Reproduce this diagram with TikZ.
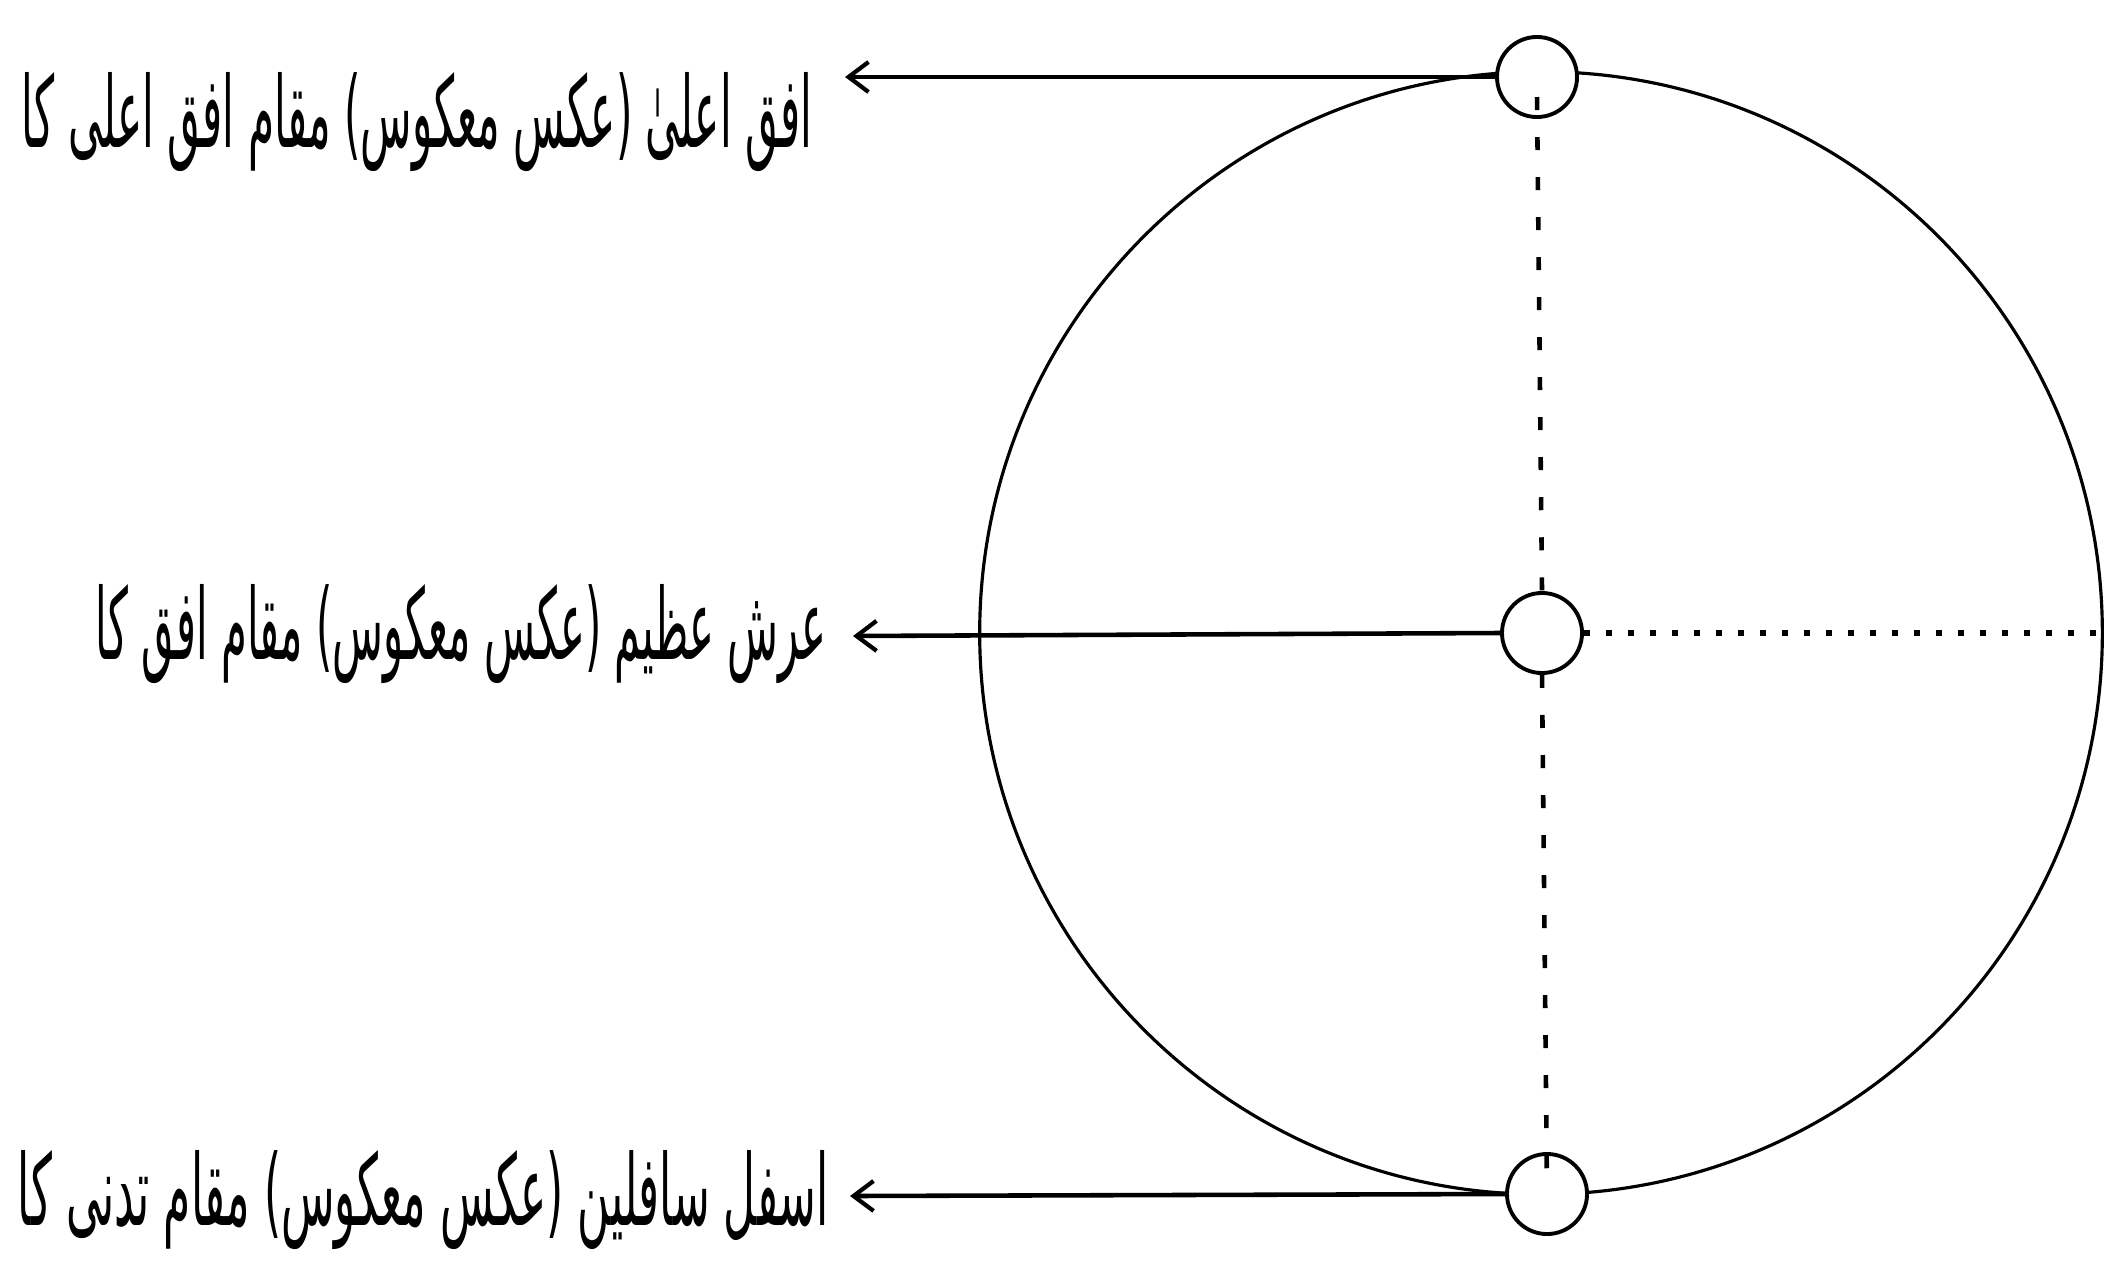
\documentclass[tikz,border=0pt]{standalone}
\usepackage{fontspec}
\usepackage{graphicx}
\newfontfamily\urdufont[Script=Arabic]{DejaVu Sans}
\TeXXeTstate=1
\usetikzlibrary{arrows.meta}
\tikzset{
  bigc/.style={circle, draw, line width=0.9pt, inner sep=0pt, minimum size=11.22cm},
  smallc/.style={circle, draw, fill=white, line width=1.1pt, inner sep=0pt, minimum size=0.8cm},
  vdots/.style={line width=1.3pt, dash pattern=on 0.13cm off 0.27cm},
  hdots/.style={line width=1.5pt, dash pattern=on 0.06cm off 0.16cm},
  pointer/.style={line width=1.3pt, -{Straight Barb[length=0.2cm, width=0.3cm, line width=1.2pt]}},
  label/.style={anchor=east, inner sep=0pt, font=\urdufont\fontsize{24}{28}\selectfont}
}
\begin{document}
\begin{tikzpicture}[x=0.01cm, y=-0.01cm]
\useasboundingbox (0,0) rectangle (2119,1276);
\node[bigc] (big) at (1541,633) {};
\node[smallc] (top) at (1537,77) {};
\node[smallc] (mid) at (1542,633) {};
\node[smallc] (bot) at (1547,1194) {};
\draw[vdots] ([yshift=-0.2cm]top.center) -- (mid.north);
\draw[vdots] (mid.south) -- (bot.center);
\draw[hdots] (mid.east) -- (big.east);
\coordinate (ta) at (845,77);
\coordinate (ma) at (853,636);
\coordinate (ba) at (850,1196);
\draw[pointer] (top.west) -- (ta);
\draw[pointer] (mid.west) -- (ma);
\draw[pointer] (bot.west) -- (ba);
\node[label] (tt) at (813,122) {\resizebox{7.9cm}{0.75cm}{\beginR افق اعلیٰ (عکس معکوس) مقام افق اعلی کا\endR}};
\node[label] (mt) at (827,634) {\resizebox{7.3cm}{0.75cm}{\beginR عرش عظیم (عکس معکوس) مقام افق کا\endR}};
\node[label] (bt) at (829,1200) {\resizebox{8.1cm}{0.75cm}{\beginR اسفل سافلین (عکس معکوس) مقام تدنی کا\endR}};
\end{tikzpicture}
\end{document}
